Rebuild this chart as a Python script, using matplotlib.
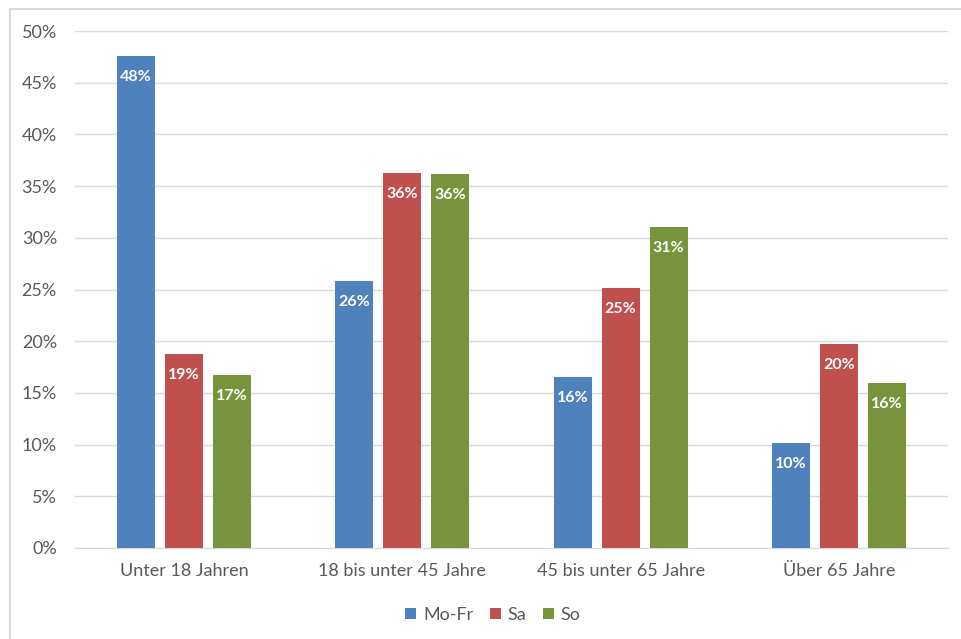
import matplotlib
matplotlib.use("Agg")
import matplotlib.pyplot as plt
import numpy as np
from matplotlib.patches import Rectangle

plt.rcParams['font.family'] = ['Lato', 'DejaVu Sans']

categories = ["Unter 18 Jahren", "18 bis unter 45 Jahre", "45 bis unter 65 Jahre", "Über 65 Jahre"]
series_names = ["Mo-Fr", "Sa", "So"]
mofr = [47.6, 25.8, 16.5, 10.2]
sa = [18.8, 36.3, 25.1, 19.7]
so = [16.7, 36.2, 31.0, 16.0]
colors = ["#4F81BD", "#C0504D", "#77933C"]

fig = plt.figure(figsize=(9.62, 6.39), dpi=100)
ax = fig.add_axes([75/962, 1 - 548/639, 873/962, 517/639])

x = np.arange(len(categories))
w = 0.174
step = 0.22
for i, (vals, c, name) in enumerate(zip([mofr, sa, so], colors, series_names)):
    pos = x + (i - 1) * step
    bars = ax.bar(pos, vals, width=w, color=c, label=name, zorder=3)
    for b, v in zip(bars, vals):
        ax.annotate(f"{v:.0f}%", (b.get_x() + b.get_width() / 2, v),
                    xytext=(0, -21), textcoords="offset pixels",
                    ha="center", va="center", color="white", fontsize=11.5, fontweight="bold", zorder=4)

ax.set_xlim(-0.5, 3.5)
ax.set_ylim(0, 50)
ax.set_yticks(range(0, 51, 5))
ax.set_yticklabels([f"{t}%" for t in range(0, 51, 5)])
ax.set_xticks(x)
ax.set_xticklabels(categories)
ax.grid(axis="y", color="#D9D9D9", linewidth=1, zorder=0)
for s in ["top", "right", "left"]:
    ax.spines[s].set_visible(False)
ax.spines["bottom"].set_color("#D9D9D9")
ax.tick_params(axis="both", length=0, labelsize=13, colors="#595959")
ax.tick_params(axis="x", pad=11)
ax.tick_params(axis="y", pad=13)

leg = fig.legend(loc="center", bbox_to_anchor=(493/962, 1 - 615/639), ncol=3, frameon=False,
                 fontsize=13, handlelength=0.6, handleheight=0.6, handletextpad=0.4,
                 columnspacing=0.9)
for t in leg.get_texts():
    t.set_color("#595959")

fig.patches.append(Rectangle((10/962, -0.1), 1.2, 1 - 9/639 + 0.1, transform=fig.transFigure,
                             fill=False, edgecolor="#D9D9D9", linewidth=1.5))

fig.savefig("out.png", dpi=100)
